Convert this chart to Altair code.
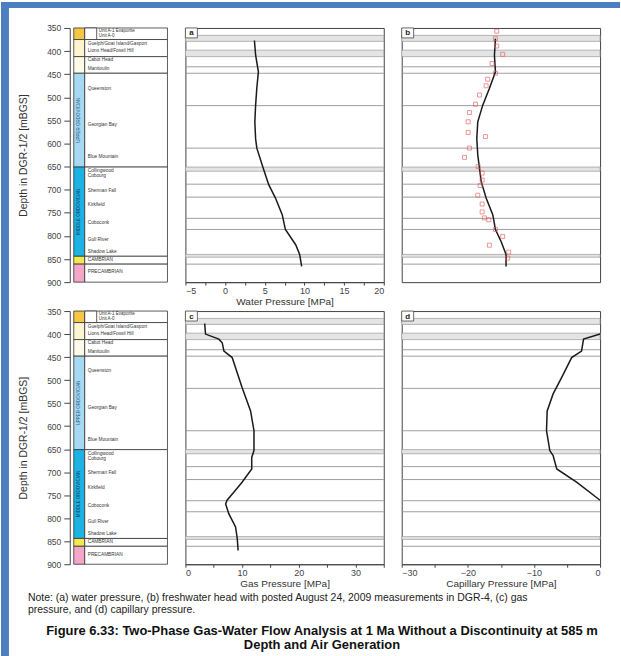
import altair as alt
import pandas as pd

FONT = "Liberation Sans"
BLUE = "#4d7fc0"

# ---------------- stratigraphic column ----------------
unit_top = [350, 375, 412, 448, 651, 844, 861]
unit_bottom = [375, 412, 448, 651, 844, 861, 900]
unit_color = ["#f6c744", "#fdf5cf", "#fefae8", "#a6d9f2", "#1cb2e4", "#f2ea4e", "#f3a6c8"]

top_names = ["Unit A-1 Evaporite", "Unit A-0"]
top_depths = [356, 367]
form_names = ["Guelph/Goat Island/Gasport", "Lions Head/Fossil Hill", "Cabot Head", "Manitoulin",
              "Queenston", "Georgian Bay", "Blue Mountain", "Collingwood", "Cobourg",
              "Sherman Fall", "Kirkfield", "Coboconk", "Gull River", "Shadow Lake",
              "CAMBRIAN", "PRECAMBRIAN"]
form_depths = [385, 400, 420, 438, 481, 561, 630, 660, 671, 702, 734, 773, 809, 835, 852, 879]
era_names = ["UPPER ORDOVICIAN", "MIDDLE ORDOVICIAN"]
era_mid = [549.5, 747.5]

depth_ticks = list(range(350, 901, 50))

# ---------------- formation lines in panels ----------------
line_depths = [434, 448, 518, 610, 688, 716, 762, 786, 861]
band_top = [366, 398, 651, 840]
band_bottom = [379, 412, 660, 846]

# ---------------- curves ----------------
wp_depth = [377, 409, 445, 480, 517, 553, 590, 610, 653, 689, 718, 754, 786, 819, 840, 866]
wp_value = [3.7, 3.85, 4.2, 4.0, 3.85, 3.75, 3.85, 4.0, 4.8, 5.5, 6.35, 7.2, 7.6, 8.9, 9.4, 9.65]

wh_depth = [373, 409, 445, 481, 517, 553, 589, 625, 653, 682, 718, 754, 786, 812, 840, 866]
wh_value = [195, 185, 195, 134, 67, 17, 7, 17, 34, 51, 101, 168, 195, 252, 302, 302]

meas_depth = [357, 373, 389, 407, 427, 448, 461, 475, 495, 515, 533, 553, 576, 585, 610,
              630, 650, 664, 679, 691, 712, 731, 748, 761, 765, 786, 801, 820, 835, 848]
meas_value = [208, 195, 208, 268, 161, 195, 117, 101, 34, -6, -67, -80, -80, 94, -67,
              -117, 21, 61, 61, 41, 17, 61, 61, 84, 128, 195, 268, 134, 329, 318]

gp_depth = [377, 400, 411, 419, 437, 451, 516, 567, 610, 653, 668, 693, 722, 744, 761, 769, 790, 819, 844, 870]
gp_value = [3.4, 3.55, 5.9, 6.5, 6.8, 8.25, 10.0, 11.5, 12.1, 12.1, 11.7, 11.7, 10.0, 8.5, 7.35, 7.1, 7.65, 8.85, 9.15, 9.3]

cp_depth = [400, 411, 437, 451, 494, 530, 567, 610, 653, 664, 693, 722, 761]
cp_value = [0.0, -2.5, -2.8, -4.3, -5.8, -7.1, -8.0, -8.1, -7.6, -7.1, -6.55, -3.5, 0.0]

note_lines = ["Note:  (a) water pressure, (b) freshwater head with posted August 24, 2009 measurements in DGR-4, (c) gas",
              "pressure, and (d) capillary pressure."]
caption_lines = ["Figure 6.33: Two-Phase Gas-Water Flow Analysis at 1 Ma Without a Discontinuity at 585 m",
                 "Depth and Air Generation"]


def yscale():
    return alt.Scale(domain=[350, 900], reverse=True, nice=False, zero=False)


def depth_axis():
    return alt.Axis(values=depth_ticks, title="Depth in DGR-1/2 [mBGS]", tickSize=6,
                    labelPadding=3, titlePadding=18, labelFontSize=8.5, titleFontSize=10.5,
                    orient="left")


def strat(height, with_border):
    units = pd.DataFrame({"top": unit_top, "bottom": unit_bottom, "color": unit_color})
    tops = pd.DataFrame({"name": top_names, "depth": top_depths})
    forms = pd.DataFrame({"name": form_names, "depth": form_depths})
    eras = pd.DataFrame({"name": era_names, "mid": era_mid, "tc": ["#2a5f8a", "#0b3d5c"]})
    first = pd.DataFrame({"top": unit_top[:1], "bottom": unit_bottom[:1]})

    def Y(f):
        return alt.Y(f, scale=yscale(), axis=depth_axis(), title="Depth in DGR-1/2 [mBGS]")

    strip = alt.Chart(units).mark_rect(stroke="#333", strokeWidth=0.8).encode(
        x=alt.value(4), x2=alt.value(15),
        y=Y("top:Q"), y2="bottom:Q",
        fill=alt.Fill("color:N", scale=None))
    box = alt.Chart(units).mark_rect(fill="white", stroke="#333", strokeWidth=0.8).encode(
        x=alt.value(15), x2=alt.value(98), y=Y("top:Q"), y2="bottom:Q")
    sq = alt.Chart(first).mark_rect(fill="white", stroke="#333", strokeWidth=0.8).encode(
        x=alt.value(15), x2=alt.value(27), y=Y("top:Q"), y2="bottom:Q")
    t1 = alt.Chart(tops).mark_text(align="left", baseline="middle", fontSize=4.5, font=FONT,
                                   color="#333").encode(
        x=alt.value(29), y=Y("depth:Q"), text="name:N")
    t2 = alt.Chart(forms).mark_text(align="left", baseline="middle", fontSize=4.8, font=FONT,
                                    color="#333").encode(
        x=alt.value(18), y=Y("depth:Q"), text="name:N")
    t3 = alt.Chart(eras).mark_text(align="center", baseline="middle", fontSize=4.5, font=FONT,
                                   angle=270).encode(
        x=alt.value(9.5), y=Y("mid:Q"), text="name:N",
        color=alt.Color("tc:N", scale=None))
    layers = [strip, box, sq, t1, t2, t3]
    if with_border:
        one = pd.DataFrame({"k": [0]})
        left = alt.Chart(one).mark_rect(color=BLUE).encode(
            x=alt.value(-69), x2=alt.value(-61), y=alt.value(-26), y2=alt.value(630))
        topb = alt.Chart(one).mark_rect(color=BLUE).encode(
            x=alt.value(-69), x2=alt.value(552), y=alt.value(-26), y2=alt.value(-20))
        layers = layers + [left, topb]
    return alt.layer(*layers).properties(width=98, height=height,
                                         view=alt.ViewBackground(stroke="transparent"))


def panel(depth, value, xdom, xticks, step, title, letter, height, width=199, meas=None):
    bands = pd.DataFrame({"top": band_top, "bottom": band_bottom})
    lines = pd.DataFrame({"depth": line_depths})
    curve = pd.DataFrame({"depth": depth, "value": value})
    xs = alt.Scale(domain=xdom, nice=False, zero=False)
    b = alt.Chart(bands).mark_rect(fill="#e4e4e4", stroke="#999", strokeWidth=0.7).encode(
        x=alt.value(0), x2=alt.value(width),
        y=alt.Y("top:Q", scale=yscale(), axis=None), y2="bottom:Q")
    l = alt.Chart(lines).mark_rule(color="#949494", strokeWidth=0.9).encode(
        x=alt.value(0), x2=alt.value(width), y=alt.Y("depth:Q", scale=yscale(), axis=None))
    c = alt.Chart(curve).mark_line(color="#1a1a1a", strokeWidth=1.5).encode(
        x=alt.X("value:Q", scale=xs,
                axis=alt.Axis(values=xticks, format="d", title=title, tickSize=3,
                              labelPadding=1, titlePadding=1,
                              labelExpr=f"datum.value % {step} == 0 ? datum.label : ''")),
        y=alt.Y("depth:Q", scale=yscale(), axis=None),
        order="depth:Q")
    layers = [b, l, c]
    if meas is not None:
        m = pd.DataFrame({"depth": meas[0], "value": meas[1]})
        p = alt.Chart(m).mark_point(shape="square", filled=False, color="#e05a5a", size=16,
                                    strokeWidth=0.9).encode(
            x=alt.X("value:Q", scale=xs, axis=None),
            y=alt.Y("depth:Q", scale=yscale(), axis=None))
        layers.append(p)
    lab = pd.DataFrame({"t": [letter]})
    lb = alt.Chart(lab).mark_rect(fill="white", stroke="#444", strokeWidth=0.8).encode(
        x=alt.value(0), x2=alt.value(12), y=alt.value(0), y2=alt.value(10))
    lt = alt.Chart(lab).mark_text(fontSize=8, fontWeight="bold", font=FONT, color="#222",
                                  align="center", baseline="middle").encode(
        x=alt.value(6), y=alt.value(5.5), text="t:N")
    layers += [lb, lt]
    return alt.layer(*layers).properties(width=width, height=height)


ticks_a = [-5 + 2.5 * i for i in range(11)]
ticks_b = [-750 + 250 * i for i in range(9)]
ticks_c = [5 * i for i in range(8)]
ticks_d = [-30 + 5 * i for i in range(7)]

one = pd.DataFrame({"n1": [note_lines[0]], "n2": [note_lines[1]],
                    "c1": [caption_lines[0]], "c2": [caption_lines[1]]})
tbase = alt.Chart(one)
txt = alt.layer(
    tbase.mark_text(align="left", baseline="middle", fontSize=10.5, font=FONT, color="#222").encode(
        x=alt.value(-42), y=alt.value(5), text="n1:N"),
    tbase.mark_text(align="left", baseline="middle", fontSize=10.5, font=FONT, color="#222").encode(
        x=alt.value(-42), y=alt.value(17), text="n2:N"),
    tbase.mark_text(align="center", baseline="middle", fontSize=13, fontWeight="bold", font=FONT,
                    color="#111").encode(x=alt.value(253), y=alt.value(38), text="c1:N"),
    tbase.mark_text(align="center", baseline="middle", fontSize=13, fontWeight="bold", font=FONT,
                    color="#111").encode(x=alt.value(253), y=alt.value(52), text="c2:N"),
).properties(width=98, height=63, view=alt.ViewBackground(stroke="transparent"))

chart = alt.concat(
    strat(255, True),
    panel(wp_depth, wp_value, [-5, 20], ticks_a, 5, "Water Pressure [MPa]", "a", 255),
    panel(wh_depth, wh_value, [-750, 1250], ticks_b, 500, "Water Head [m]", "b", 255,
          meas=(meas_depth, meas_value)),
    strat(254, False),
    panel(gp_depth, gp_value, [0, 35], ticks_c, 10, "Gas Pressure [MPa]", "c", 254),
    panel(cp_depth, cp_value, [-30, 0], ticks_d, 10, "Capillary Pressure [MPa]", "d", 254),
    txt,
    columns=3, spacing={"row": 29, "column": 18}, bounds="flush"
).properties(
    padding=0, background="white"
).configure_axis(
    labelFont=FONT, titleFont=FONT, labelFontSize=9, titleFontSize=10,
    labelColor="#444", titleColor="#333", domainColor="#444", tickColor="#444",
    grid=False, titleFontWeight="normal"
).configure_view(stroke="#444", strokeWidth=1)

chart.save("out.html", embed_options={"renderer": "svg", "actions": False})
